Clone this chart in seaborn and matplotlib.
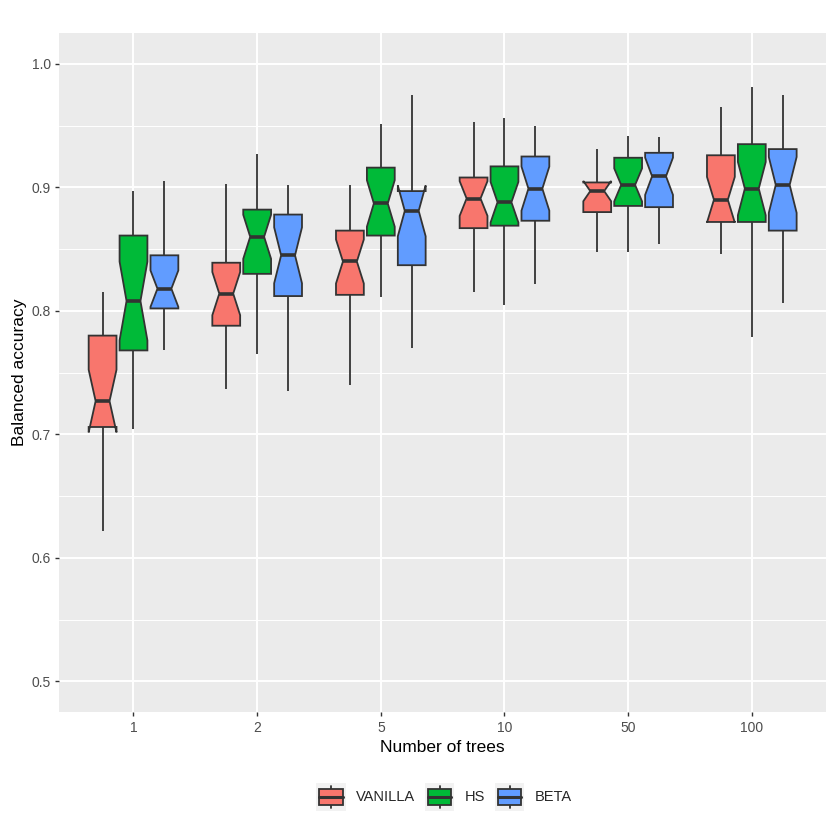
import numpy as np
import pandas as pd
import seaborn as sns
import matplotlib
matplotlib.use("Agg")
import matplotlib.pyplot as plt
from matplotlib.patches import Patch, Rectangle
from matplotlib.lines import Line2D
from matplotlib.legend_handler import HandlerBase
from matplotlib.ticker import MultipleLocator

# categories and five-number summaries
trees = ["1", "2", "5", "10", "50", "100"]
methods = ["VANILLA", "HS", "BETA"]
colors = ["#F8766D", "#00BA38", "#619CFF"]

# per method, per tree count: whisker low, q1, median, q3, whisker high
vanilla_lo = [0.622, 0.737, 0.740, 0.815, 0.848, 0.846]
vanilla_q1 = [0.706, 0.788, 0.813, 0.867, 0.880, 0.872]
vanilla_med = [0.727, 0.814, 0.840, 0.891, 0.897, 0.890]
vanilla_q3 = [0.780, 0.839, 0.865, 0.908, 0.904, 0.926]
vanilla_hi = [0.815, 0.903, 0.902, 0.953, 0.931, 0.965]

hs_lo = [0.704, 0.765, 0.811, 0.805, 0.848, 0.779]
hs_q1 = [0.768, 0.830, 0.861, 0.869, 0.885, 0.872]
hs_med = [0.808, 0.860, 0.887, 0.888, 0.902, 0.899]
hs_q3 = [0.861, 0.882, 0.916, 0.917, 0.924, 0.935]
hs_hi = [0.897, 0.927, 0.951, 0.956, 0.942, 0.981]

beta_lo = [0.768, 0.735, 0.770, 0.822, 0.854, 0.806]
beta_q1 = [0.802, 0.812, 0.837, 0.873, 0.884, 0.865]
beta_med = [0.818, 0.845, 0.881, 0.899, 0.909, 0.902]
beta_q3 = [0.845, 0.878, 0.897, 0.925, 0.928, 0.931]
beta_hi = [0.905, 0.902, 0.975, 0.950, 0.941, 0.975]

summaries = {
    "VANILLA": (vanilla_lo, vanilla_q1, vanilla_med, vanilla_q3, vanilla_hi),
    "HS": (hs_lo, hs_q1, hs_med, hs_q3, hs_hi),
    "BETA": (beta_lo, beta_q1, beta_med, beta_q3, beta_hi),
}

# expand each summary into 21 values whose quartiles equal the summary
k = 5
rows = []
for m in methods:
    lo, q1, med, q3, hi = summaries[m]
    for i, t in enumerate(trees):
        vals = [lo[i]] + [q1[i]] * k + [med[i]] * k + [q3[i]] * k + [hi[i]] * k
        for v in vals:
            rows.append({"trees": t, "method": m, "acc": v})
df = pd.DataFrame(rows)

sns.set_theme(style="darkgrid", rc={
    "axes.facecolor": "#EBEBEB",
    "grid.color": "white",
    "axes.edgecolor": "none",
})
plt.rcParams["font.family"] = ["Liberation Sans", "DejaVu Sans"]

fig = plt.figure(figsize=(8.3, 8.3), dpi=100)
ax = fig.add_axes([59.3 / 830, (830 - 712.3) / 830, (826 - 59.3) / 830, (712.3 - 33) / 830])

sns.boxplot(data=df, x="trees", y="acc", hue="method", order=trees, hue_order=methods,
            palette=colors, saturation=1, width=0.75, gap=0.1, whis=(0, 100), notch=True,
            showcaps=False, linecolor="#333333", linewidth=1.3,
            medianprops={"linewidth": 2.6}, legend=False, ax=ax)

ax.set_xlim(-0.6, 5.6)
ax.set_ylim(0.475, 1.025)
ax.yaxis.set_major_locator(MultipleLocator(0.1))
ax.yaxis.set_minor_locator(MultipleLocator(0.05))
ax.grid(which="major", color="white", linewidth=1.4)
ax.grid(which="minor", axis="y", color="white", linewidth=0.7)
ax.set_axisbelow(True)
ax.tick_params(which="major", length=3.2, width=1.0, color="#333333",
               labelsize=10, labelcolor="#4D4D4D", pad=3, bottom=True, left=True)
ax.tick_params(which="minor", length=0)
ax.set_yticks([0.5, 0.6, 0.7, 0.8, 0.9, 1.0])
ax.set_yticklabels(["0.5", "0.6", "0.7", "0.8", "0.9", "1.0"])
for s in ax.spines.values():
    s.set_visible(False)

ax.set_xlabel("Number of trees", fontsize=12.5, color="black", labelpad=4)
ax.set_ylabel("Balanced accuracy", fontsize=12.5, color="black", labelpad=3)


class BoxKey(HandlerBase):
    def create_artists(self, legend, orig_handle, xdescent, ydescent, width, height, fontsize, trans):
        x0, y0 = -xdescent, -ydescent
        bg = Rectangle((x0, y0), width, height, facecolor="#F2F2F2", edgecolor="none", transform=trans)
        bw, bh = width * 0.8, height * 0.54
        bx, by = x0 + (width - bw) / 2, y0 + (height - bh) / 2
        box = Rectangle((bx, by), bw, bh, facecolor=orig_handle.get_facecolor(),
                        edgecolor="#333333", linewidth=1.3, transform=trans)
        cx = x0 + width / 2
        med = Line2D([bx, bx + bw], [y0 + height / 2] * 2, color="#333333", linewidth=2.2, transform=trans)
        w1 = Line2D([cx, cx], [y0 + height * 0.1, by], color="#333333", linewidth=1.3, transform=trans)
        w2 = Line2D([cx, cx], [by + bh, y0 + height * 0.9], color="#333333", linewidth=1.3, transform=trans)
        return [bg, w1, w2, box, med]


handles = [Patch(facecolor=c, label=m) for m, c in zip(methods, colors)]
fig.legend(handles=handles, loc="center", bbox_to_anchor=(444 / 830, 1 - 797 / 830), ncol=3,
           frameon=False, fontsize=10.5, handlelength=2.0, handleheight=2.6, handletextpad=0.7,
           columnspacing=0.7, borderpad=0, handler_map={Patch: BoxKey()})

fig.savefig("out.png", dpi=100, facecolor="white")
